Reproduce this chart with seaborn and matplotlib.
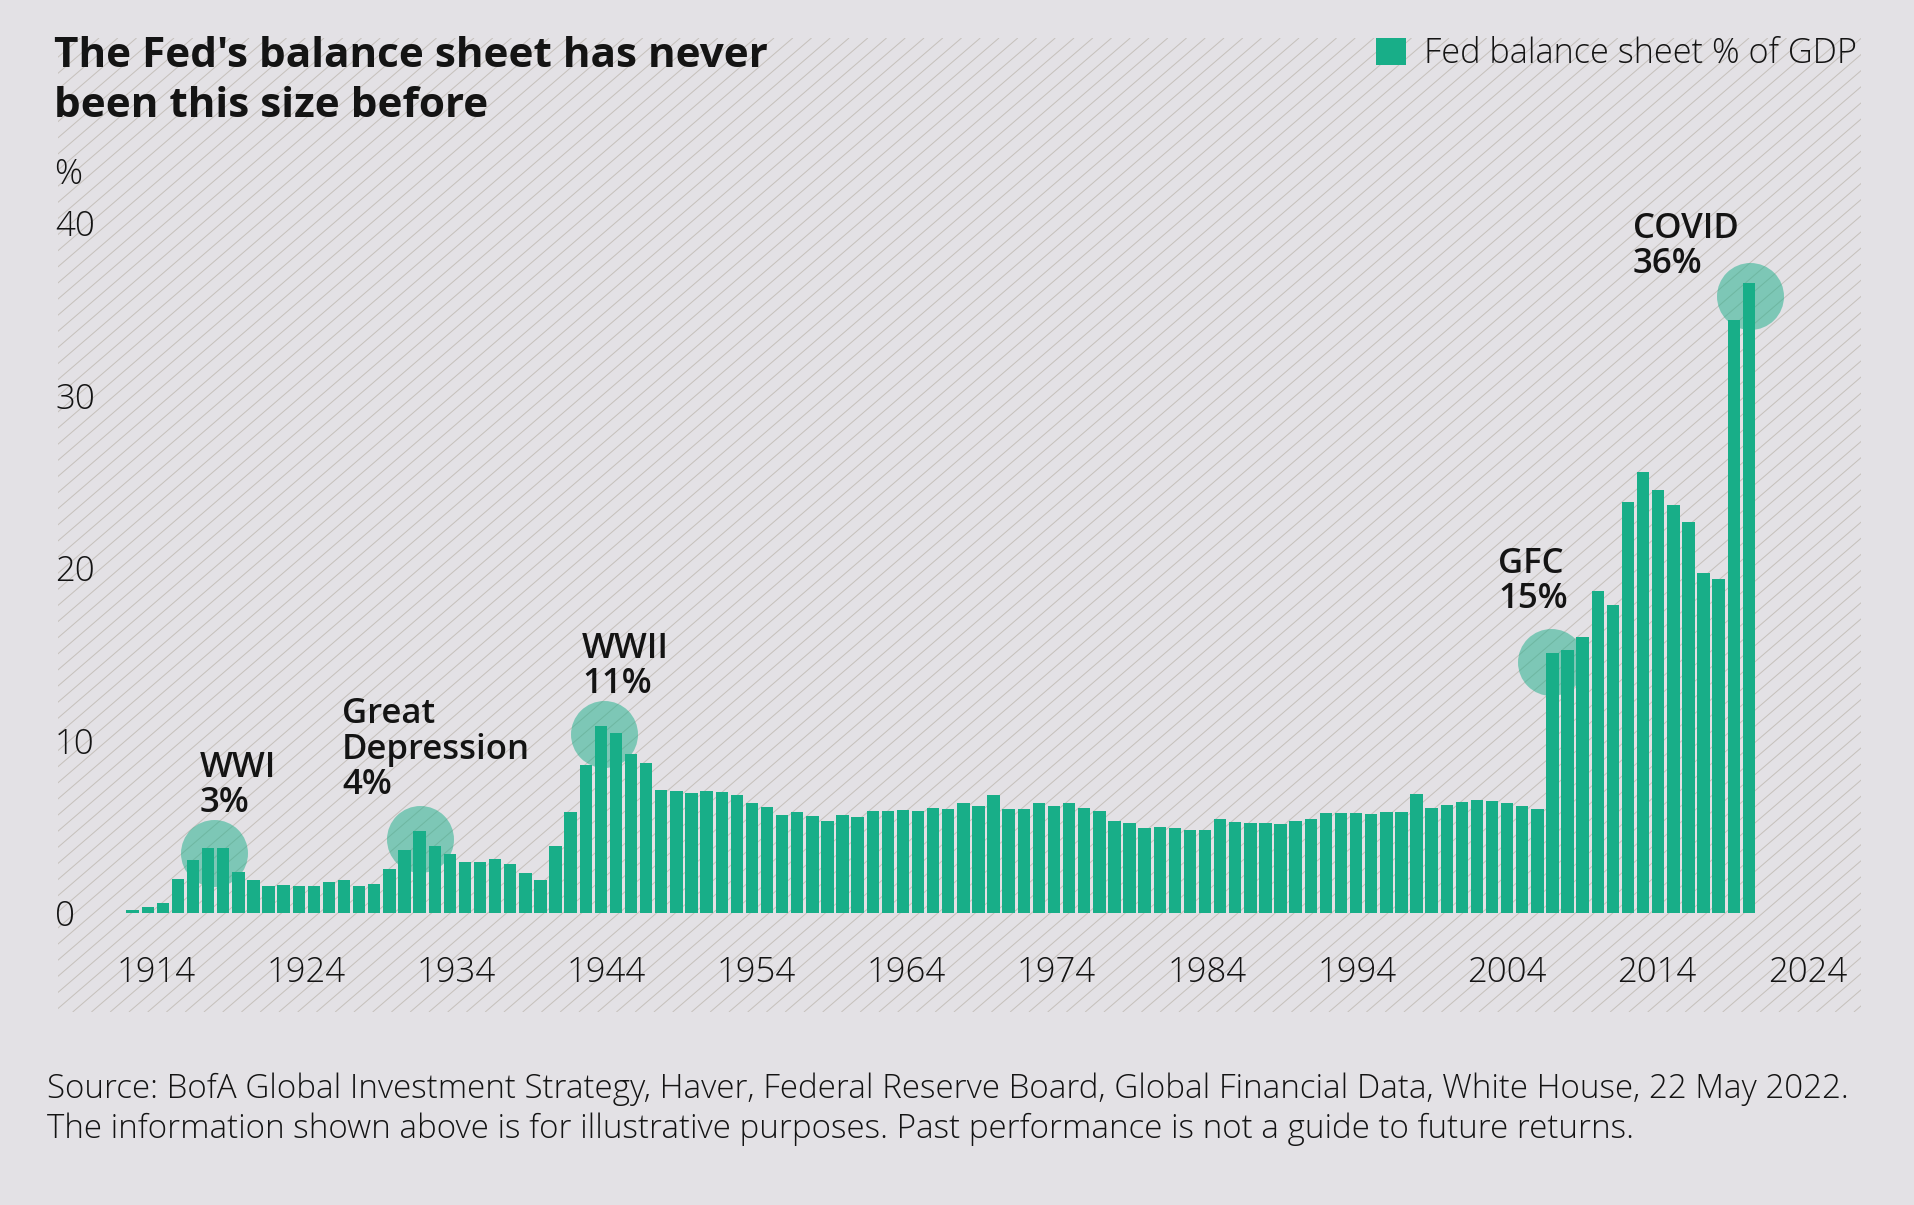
"""Fed balance sheet as % of GDP, 1913-2020, hatched panel with event circles."""
import matplotlib
matplotlib.use('Agg')
import matplotlib.pyplot as plt
from matplotlib.collections import LineCollection
from matplotlib.patches import Patch
from matplotlib.transforms import IdentityTransform
import numpy as np
import pandas as pd
import seaborn as sns

W, H = 1915, 1205
DPI = 100

BG = '#E3E1E5'
GREEN = '#18AE88'
HATCH = '#C6C1BC'
INK = '#141414'

years = list(range(1913, 2021))
fed_pct_gdp = [
    0.19, 0.33, 0.56, 1.97, 3.07, 3.75, 3.75, 2.36, 1.89, 1.58,
    1.62, 1.58, 1.57, 1.82, 1.91, 1.58, 1.66, 2.53, 3.67, 4.77,
    3.86, 3.44, 2.98, 2.94, 3.13, 2.86, 2.34, 1.93, 3.90, 5.87,
    8.56, 10.86, 10.43, 9.22, 8.70, 7.15, 7.07, 6.98, 7.09, 7.03,
    6.82, 6.36, 6.13, 5.68, 5.86, 5.64, 5.35, 5.70, 5.57, 5.91,
    5.91, 5.97, 5.91, 6.09, 6.05, 6.36, 6.22, 6.86, 6.01, 6.05,
    6.36, 6.20, 6.36, 6.09, 5.93, 5.33, 5.22, 4.95, 4.99, 4.91,
    4.81, 4.81, 5.43, 5.28, 5.24, 5.22, 5.18, 5.35, 5.45, 5.78,
    5.82, 5.80, 5.76, 5.86, 5.87, 6.92, 6.09, 6.26, 6.42, 6.55,
    6.49, 6.40, 6.20, 6.05, 15.07, 15.27, 16.00, 18.67, 17.84, 23.85,
    25.57, 24.52, 23.67, 22.65, 19.73, 19.38, 34.38, 36.50,
]

tick_years = [1914, 1924, 1934, 1944, 1954, 1964, 1974, 1984, 1994, 2004, 2014, 2024]
y_ticks = [0, 10, 20, 30, 40]

event_years = [1918.4, 1932.0, 1944.2, 2006.9, 2020.1]
event_levels = [3.48, 4.27, 10.4, 14.55, 35.77]

title_lines = [("The Fed's balance sheet has never", 67), ("been this size before", 117)]
source_lines = [
    ("Source: BofA Global Investment Strategy, Haver, Federal Reserve Board, "
     "Global Financial Data, White House, 22 May 2022.", 1098),
    ("The information shown above is for illustrative purposes. "
     "Past performance is not a guide to future returns.", 1138),
]
event_labels = [
    (199.5, [("WWI", 777), ("3%", 812)]),
    (342, [("Great", 723), ("Depression", 759), ("4%", 794)]),
    (582, [("WWII", 658), ("11%", 693)]),
    (1498, [("GFC", 573), ("15%", 608)]),
    (1633, [("COVID", 238), ("36%", 273)]),
]


def fig_text(fig, x, y, s, **kw):
    # x, y are pixels from the top left of the image, y is the text baseline
    fig.text(x / W, 1 - y / H, s, va='baseline', color=INK, **kw)


def main():
    sns.set_theme(style='white')
    plt.rcParams['font.family'] = ['Open Sans', 'DejaVu Sans']

    df = pd.DataFrame({'year': years, 'pct': fed_pct_gdp})

    fig = plt.figure(figsize=(W / DPI, H / DPI), dpi=DPI, facecolor=BG)

    # panel edges in pixels, scale set so baseline sits at y=913 and 40 at y=223
    left, right, top, bottom = 57.6, 1860.5, 38, 1012
    px_per_unit = 17.25
    px_per_year = 15.105
    ax = fig.add_axes([left / W, 1 - bottom / H, (right - left) / W, (bottom - top) / H])
    ax.set_facecolor('none')
    for s in ax.spines.values():
        s.set_visible(False)

    # diagonal hatch behind everything
    slope = 0.86
    offsets = np.arange(72.7 - 18.75 * 60, right + 18.75, 18.75)
    span = (bottom - top) / slope
    segs = [[(x0, H - bottom), (x0 + span, H - top)] for x0 in offsets]
    ax.add_collection(LineCollection(segs, colors=HATCH, linewidths=0.72,
                                     transform=IdentityTransform(), zorder=0),
                      autolim=False)

    sns.barplot(data=df, x='year', y='pct', native_scale=True, color=GREEN,
                saturation=1, width=0.82, linewidth=0, ax=ax, zorder=3)

    sns.scatterplot(x=event_years, y=event_levels, s=2326, color=GREEN, alpha=0.5,
                    linewidth=0, ax=ax, zorder=2, legend=False)

    ax.set_xlim(1913 + (left - 132.6) / px_per_year, 1913 + (right - 132.6) / px_per_year)
    ax.set_ylim((913 - bottom) / px_per_unit, (913 - top) / px_per_unit)
    ax.set_xlabel('')
    ax.set_ylabel('')

    # year labels drift slightly from the bars in the original
    ax.set_xticks([y + 0.55 - (y - 1914) * 0.0062 for y in tick_years])
    ax.set_xticklabels([str(y) for y in tick_years], fontsize=25, fontweight=300, color=INK)
    ax.set_yticks(y_ticks)
    ax.set_yticklabels([str(v) for v in y_ticks], fontsize=25, fontweight=300, color=INK, ha='left')
    ax.tick_params(axis='y', length=0, pad=1.8)
    ax.tick_params(axis='x', length=0, pad=-41)

    handle = Patch(facecolor=GREEN, edgecolor='none', label='Fed balance sheet % of GDP')
    leg = ax.legend(handles=[handle], loc='center right',
                    bbox_to_anchor=(1857 / W, 1 - 54 / H), bbox_transform=fig.transFigure,
                    frameon=False, borderpad=0, borderaxespad=0, handlelength=0.85,
                    handleheight=0.85, handletextpad=0.54,
                    prop={'size': 24.65, 'weight': 300, 'family': 'Open Sans'})
    leg.get_texts()[0].set_color(INK)

    for s, y in title_lines:
        fig_text(fig, 54, y, s, fontsize=30.4, fontweight='bold')
    fig_text(fig, 54, 184, '%', fontsize=25, fontweight=300)
    for x, lines in event_labels:
        for s, y in lines:
            fig_text(fig, x, y, s, fontsize=25, fontweight=600)
    for s, y in source_lines:
        fig_text(fig, 46.7, y, s, fontsize=23.9, fontweight=300)

    fig.savefig('out.png', dpi=DPI, facecolor=BG)
    plt.close(fig)


if __name__ == "__main__":
    main()
